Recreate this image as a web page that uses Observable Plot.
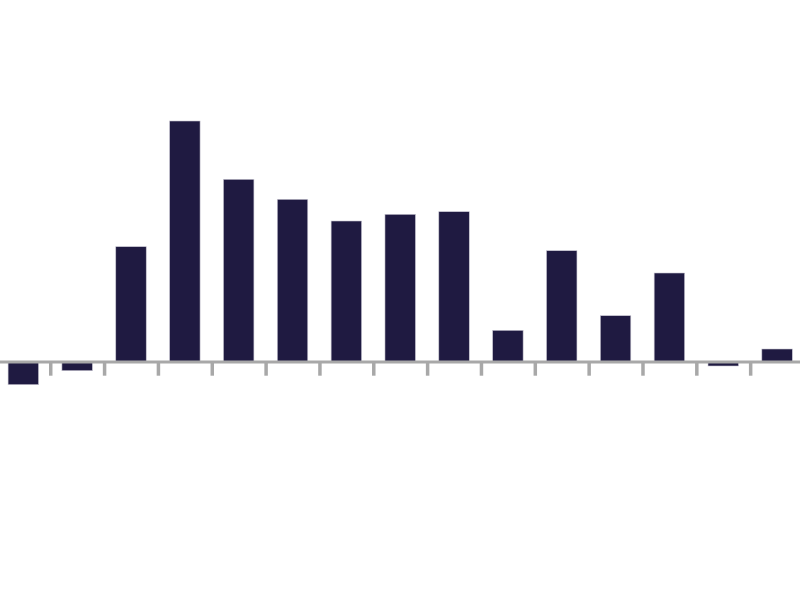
<!DOCTYPE html>
<html>
<head>
<meta charset="utf-8">
<script src="https://cdn.jsdelivr.net/npm/d3@7"></script>
<script src="https://cdn.jsdelivr.net/npm/@observablehq/plot@0.6"></script>
<style>
  html, body { margin: 0; padding: 0; background: #fff; }
  #chart svg { display: block; }
</style>
</head>
<body>
<div id="chart"></div>
<script>
const categories = [0, 1, 2, 3, 4, 5, 6, 7, 8, 9, 10, 11, 12, 13, 14];
const values = [-2.32, -0.92, 11.48, 24.05, 18.22, 16.22, 14.05, 14.72, 14.98, 3.12, 11.08, 4.58, 8.85, -0.45, 1.25];
const boundaries = categories.slice(1).map(c => c - 0.5);

const data = categories.map((c, i) => ({cat: c, value: values[i]}));
const half = 0.283;

const chart = Plot.plot({
  width: 800,
  height: 601,
  marginTop: 0,
  marginBottom: 0,
  marginLeft: 0,
  marginRight: 0,
  x: {domain: [-0.5, 14.5], range: [-3.6, 804], axis: null},
  y: {domain: [-23.95, 36.15], axis: null},
  marks: [
    Plot.rectY(data, {
      x1: d => d.cat - half,
      x2: d => d.cat + half,
      y1: 0,
      y2: "value",
      fill: "#1f1a41",
      stroke: "#c9c7d2",
      strokeWidth: 0.6
    }),
    Plot.ruleX(boundaries, {x: d => d, y1: 0, y2: -1.42, stroke: "#a8a8a8", strokeWidth: 3.5}),
    Plot.ruleY([0], {stroke: "#a8a8a8", strokeWidth: 3.2})
  ]
});
document.getElementById("chart").appendChild(chart);
</script>
</body>
</html>
